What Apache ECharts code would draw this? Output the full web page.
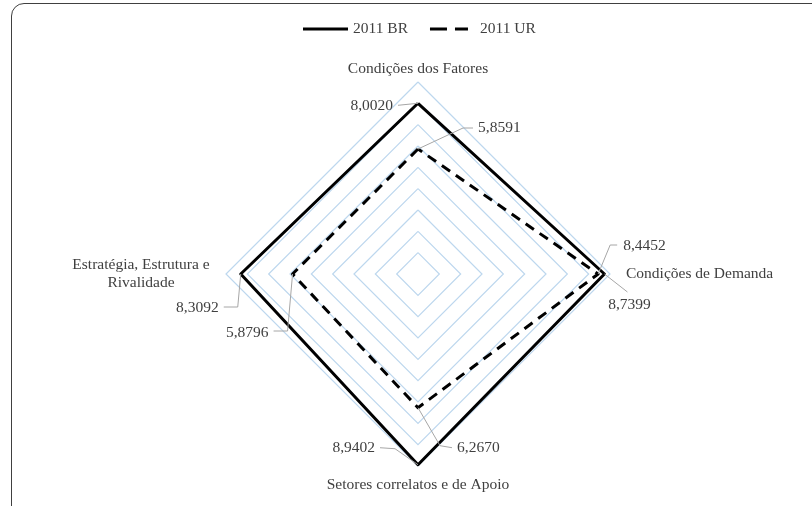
<!DOCTYPE html>
<html>
<head>
<meta charset="utf-8">
<script src="https://cdn.jsdelivr.net/npm/echarts@6/dist/echarts.min.js"></script>
<style>
  html, body { margin: 0; padding: 0; background: #fff; }
  #wrap { position: relative; width: 812px; height: 506px; overflow: hidden; }
  #frame {
    position: absolute; left: 11px; top: 3px; width: 830px; height: 530px;
    border: 1.5px solid #404040; border-radius: 13px; box-sizing: border-box;
  }
  #chart { position: absolute; left: 0; top: 0; width: 812px; height: 506px; }
</style>
</head>
<body>
<div id="wrap">
  <div id="frame"></div>
  <div id="chart"></div>
</div>
<script>
// eixos (ordem do radar: topo, esquerda, baixo, direita)
const indicators = [
  "Condições dos Fatores",
  "Estratégia, Estrutura e\nRivalidade",
  "Setores correlatos e de Apoio",
  "Condições de Demanda",
];
const seriesNames = ["2011 BR", "2011 UR"];
const br2011 = [8.0020, 8.3092, 8.9402, 8.7399];
const ur2011 = [5.8591, 5.8796, 6.2670, 8.4452];
const axisMax = 9;

const CX = 418, CY = 274, R = 192;
const FS = 15.5;
const FONT = FS + "px 'Liberation Serif', 'Times New Roman', serif";

// espaço extra de cada nome de eixo (topo, esquerda, baixo, direita)
const namePad = [
  [0, 0, 0, 0],
  [0, 11, 0, 0],
  [12, 0, 0, 0],
  [0, 0, 0, 12],
];

// posição dos rótulos em relação ao ponto (linha guia + texto)
const labelLayout = [
  [ // 2011 BR
    { line: [[-20, 2]], text: [-25, 3], align: "right" },
    { line: [[-3, 33], [-17, 33]], text: [-22, 34], align: "right" },
    { line: [[-23, -16], [-38, -17]], text: [-43, -17], align: "right" },
    { line: [[23, 18]], text: [25, 31], align: "center" },
  ],
  [ // 2011 UR
    { line: [[45, -21], [55, -21]], text: [60, -21], align: "left" },
    { line: [[-5, 57], [-19, 57]], text: [-24, 59], align: "right" },
    { line: [[22, 38], [34, 40]], text: [39, 40], align: "left" },
    { line: [[12, -29], [19, -29]], text: [25, -28], align: "left" },
  ],
];

const labelData = [];
[br2011, ur2011].forEach((arr, s) => {
  arr.forEach((v, i) => labelData.push([v, i, s]));
});

const nameRich = {};
namePad.forEach((p, i) => {
  nameRich["n" + i] = {
    fontSize: FS, color: "#404040", fontFamily: "Liberation Serif",
    lineHeight: 18, padding: p, align: "center",
  };
});
nameRich.n1.width = 140;

const chart = echarts.init(document.getElementById("chart"));

const option = {
  animation: false,
  textStyle: { fontFamily: "Liberation Serif", color: "#404040" },
  legend: {
    left: 298,
    top: 16,
    itemWidth: 45,
    itemHeight: 3,
    itemGap: 22,
    textStyle: { fontSize: FS, color: "#404040", fontFamily: "Liberation Serif" },
    itemStyle: { borderWidth: 0 },
    data: [
      { name: seriesNames[0], icon: "path://M0,0H45V3H0Z" },
      { name: seriesNames[1], icon: "path://M0,0H17V3H0Z M25,0H38V3H25Z M44.9,1.45H45V1.55H44.9Z" },
    ],
  },
  radar: {
    center: [CX, CY],
    radius: R,
    startAngle: 90,
    shape: "polygon",
    splitNumber: 9,
    nameGap: 4,
    indicator: indicators.map((n) => ({ name: n, min: 0, max: axisMax })),
    axisName: {
      color: "#404040",
      fontSize: FS,
      fontFamily: "Liberation Serif",
      formatter: (name) => {
        const i = indicators.indexOf(name);
        return name.split("\n").map((s) => "{n" + i + "|" + s + "}").join("\n");
      },
      rich: nameRich,
    },
    axisLine: { show: false },
    axisTick: { show: false },
    splitArea: { show: false },
    splitLine: { lineStyle: { color: ["#bdd7ee"], width: 1.2 } },
  },
  polar: { center: [CX, CY], radius: R },
  angleAxis: {
    type: "category",
    data: indicators,
    startAngle: 90,
    clockwise: false,
    boundaryGap: false,
    show: false,
  },
  radiusAxis: { min: 0, max: axisMax, show: false },
  series: [
    {
      type: "radar",
      symbol: "none",
      data: [
        {
          name: seriesNames[0],
          value: br2011,
          itemStyle: { color: "#000" },
          lineStyle: { color: "#000", width: 3, type: "solid" },
        },
        {
          name: seriesNames[1],
          value: ur2011,
          itemStyle: { color: "#000" },
          lineStyle: { color: "#000", width: 3, type: [10, 7] },
        },
      ],
    },
    {
      // rótulos de dados com linha guia
      type: "custom",
      name: "rotulos",
      coordinateSystem: "polar",
      clip: false,
      silent: true,
      z: 5,
      data: labelData,
      renderItem: (params, api) => {
        const v = api.value(0);
        const i = api.value(1);
        const s = api.value(2);
        const p = api.coord([v, i]);
        const cfg = labelLayout[s][i];
        const pts = [p].concat(cfg.line.map((d) => [p[0] + d[0], p[1] + d[1]]));
        return {
          type: "group",
          children: [
            {
              type: "polyline",
              shape: { points: pts },
              style: { stroke: "#a6a6a6", lineWidth: 1, fill: null },
            },
            {
              type: "text",
              style: {
                text: v.toFixed(4).replace(".", ","),
                x: p[0] + cfg.text[0],
                y: p[1] + cfg.text[1],
                align: cfg.align,
                verticalAlign: "middle",
                font: FONT,
                fill: "#404040",
              },
            },
          ],
        };
      },
    },
  ],
};

chart.setOption(option);
</script>
</body>
</html>
